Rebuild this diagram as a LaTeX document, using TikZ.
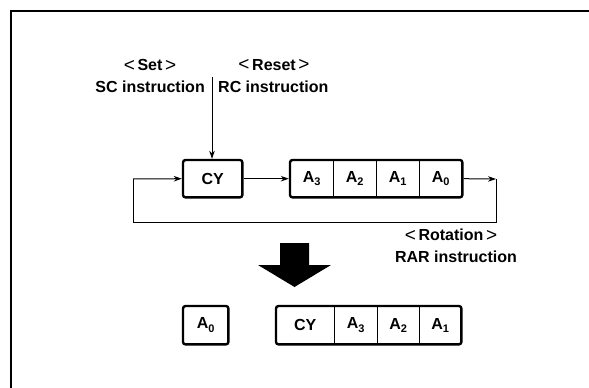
\documentclass[tikz,border=0pt]{standalone}
\usepackage{fontspec}
\setmainfont{Liberation Sans}
\usetikzlibrary{arrows.meta,fit}
\newcommand{\lsub}[1]{\raisebox{-0.4ex}{\fontsize{11}{11}\selectfont #1}}
\newcommand{\myLT}{\raisebox{-0.1ex}{\fontsize{19}{18}\selectfont\mdseries<}}
\newcommand{\myGT}{\raisebox{-0.1ex}{\fontsize{19}{18}\selectfont\mdseries>}}
\begin{document}
\begin{tikzpicture}[x=1pt,y=-1pt,
  lbl/.style={font=\fontsize{16}{18}\selectfont\bfseries, inner sep=0},
  cell/.style={minimum height=37pt, inner sep=0, anchor=north west,
     font=\fontsize{16}{18}\selectfont\bfseries},
  outer/.style={draw, line width=2.4pt, rounded corners=2.5pt, inner sep=0},
  divider/.style={line width=1.4pt},
  conn/.style={line width=1pt},
  arr/.style={conn, -{Stealth[length=8pt,width=5.5pt]}},
  frame/.style={line width=2pt}]
\useasboundingbox (0,0) rectangle (589,388);
% frame
\draw[frame] (11,388) -- (11,11) -- (589,11);
% labels
\node[lbl] (set) at (150,65) {\myLT\,Set\,\myGT};
\node[lbl] (reset) at (274,65) {\myLT\,Reset\,\myGT};
\node[lbl, anchor=east] (sc) at (205,87) {SC instruction};
\node[lbl, anchor=west] (rc) at (218,87) {RC instruction};
\coordinate (setc) at (212,77);
% top row
\node[cell, minimum width=59pt] (cy) at (183,160) {CY};
\node[outer, fit=(cy)] (cybox) {};
\node[cell, minimum width=43pt] (a3) at (290,160) {A\lsub{3}};
\node[cell, minimum width=43pt] (a2) at (333,160) {A\lsub{2}};
\node[cell, minimum width=43pt] (a1) at (376,160) {A\lsub{1}};
\node[cell, minimum width=43pt] (a0) at (419,160) {A\lsub{0}};
\node[outer, fit=(a3)(a0)] (reg) {};
\draw[divider] (a3.north east) -- (a3.south east);
\draw[divider] (a2.north east) -- (a2.south east);
\draw[divider] (a1.north east) -- (a1.south east);
% connectors
\draw[arr] (setc) -- (cybox.north -| setc);
\draw[arr] (cybox.east) -- (reg.west);
\coordinate (rc1) at (496,179);
\coordinate (rc2) at (496,222);
\coordinate (lc1) at (133,222);
\coordinate (lc2) at (133,179);
\draw[arr] (reg.east) -- (rc1);
\draw[conn] (rc1) -- (rc2) -- (lc1) -- (lc2);
\draw[arr] (lc2) -- (cybox.west);
\node[lbl] (rot) at (451,235) {\myLT\,Rotation\,\myGT};
\node[lbl] (rar) at (456,257) {RAR instruction};
% big arrow
\fill (280,243) -- (309,243) -- (309,265) -- (331,265) -- (294.5,287)
  -- (258,265) -- (280,265) -- cycle;
% bottom row
\node[cell, minimum width=45pt, minimum height=38pt] (b0) at (183,306) {A\lsub{0}};
\node[outer, fit=(b0)] (b0box) {};
\node[cell, minimum width=58pt, minimum height=38pt] (bcy) at (276,306) {CY};
\node[cell, minimum width=43pt, minimum height=38pt] (b3) at (334,306) {A\lsub{3}};
\node[cell, minimum width=42pt, minimum height=38pt] (b2) at (377,306) {A\lsub{2}};
\node[cell, minimum width=42pt, minimum height=38pt] (b1) at (419,306) {A\lsub{1}};
\node[outer, fit=(bcy)(b1)] (breg) {};
\draw[divider] (bcy.north east) -- (bcy.south east);
\draw[divider] (b3.north east) -- (b3.south east);
\draw[divider] (b2.north east) -- (b2.south east);
\end{tikzpicture}
\end{document}
